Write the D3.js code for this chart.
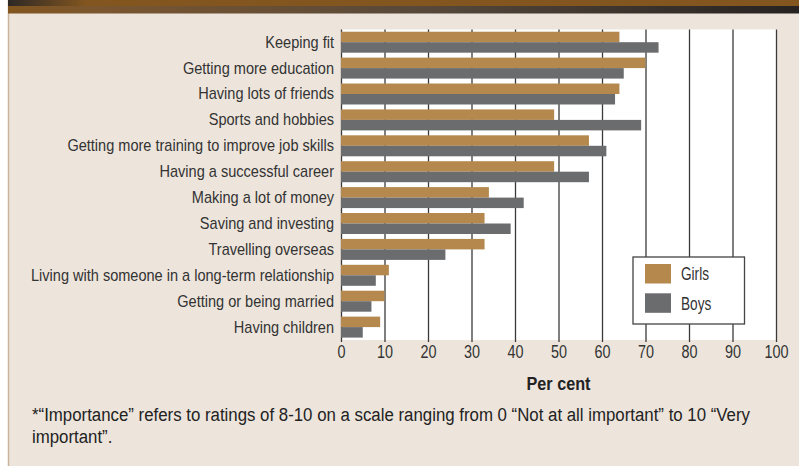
<!DOCTYPE html>
<html>
<head>
<meta charset="utf-8">
<script src="https://cdn.jsdelivr.net/npm/d3@7"></script>
<style>
  html, body { margin: 0; padding: 0; background: #ffffff; }
  svg { display: block; }
  text { font-family: "Liberation Sans", Arial, sans-serif; fill: #333333; }
</style>
</head>
<body>
<svg id="chart" width="799" height="466"></svg>
<script>
const categories = [
  "Keeping fit",
  "Getting more education",
  "Having lots of friends",
  "Sports and hobbies",
  "Getting more training to improve job skills",
  "Having a successful career",
  "Making a lot of money",
  "Saving and investing",
  "Travelling overseas",
  "Living with someone in a long-term relationship",
  "Getting or being married",
  "Having children"
];
const girls = [64, 70, 64, 49, 57, 49, 34, 33, 33, 11, 10, 9];
const boys  = [73, 65, 63, 69, 61, 57, 42, 39, 24, 8, 7, 5];
const seriesNames = ["Girls", "Boys"];
const seriesColors = ["#b5894e", "#6b6c6e"];
const xTicks = [0, 10, 20, 30, 40, 50, 60, 70, 80, 90, 100];
const xTitle = "Per cent";
const footnoteLines = [
  "*\u201CImportance\u201D refers to ratings of 8-10 on a scale ranging from 0 \u201CNot at all important\u201D to 10 \u201CVery",
  "important\u201D."
];

const svg = d3.select("#chart");
const W = 799, H = 466;

// condense a group of texts (Helvetica Condensed look) so that a reference text reaches a target width
function condense(sel, refText, refWidth) {
  let f = 0.82;
  sel.each(function () {
    if (d3.select(this).text() === refText) f = refWidth / this.getComputedTextLength();
  });
  sel.each(function () {
    const w = this.getComputedTextLength();
    d3.select(this).attr("textLength", w * f).attr("lengthAdjust", "spacingAndGlyphs");
  });
}

// page background and frame
svg.append("rect").attr("x", 0).attr("y", 0).attr("width", W).attr("height", H).attr("fill", "#ffffff");
svg.append("rect").attr("x", 8).attr("y", 0).attr("width", W - 8).attr("height", H).attr("fill", "#ede5dc");
svg.append("line").attr("x1", 8.5).attr("x2", 8.5).attr("y1", 0).attr("y2", H)
  .attr("stroke", "#c9b59e").attr("stroke-width", 1.5);

// header gradient bands
const defs = svg.append("defs");
const g1 = defs.append("linearGradient").attr("id", "hdr1").attr("x1", "0%").attr("x2", "100%");
g1.append("stop").attr("offset", "0%").attr("stop-color", "#2d2826");
g1.append("stop").attr("offset", "10%").attr("stop-color", "#83561f");
g1.append("stop").attr("offset", "100%").attr("stop-color", "#83561f");
const g2 = defs.append("linearGradient").attr("id", "hdr2").attr("x1", "0%").attr("x2", "100%");
g2.append("stop").attr("offset", "0%").attr("stop-color", "#83561f");
g2.append("stop").attr("offset", "12%").attr("stop-color", "#7a5630");
g2.append("stop").attr("offset", "55%").attr("stop-color", "#54473a");
g2.append("stop").attr("offset", "100%").attr("stop-color", "#262221");
svg.append("rect").attr("x", 8).attr("y", 0).attr("width", W - 8).attr("height", 6).attr("fill", "url(#hdr1)");
svg.append("rect").attr("x", 8).attr("y", 6).attr("width", W - 8).attr("height", 7.5).attr("fill", "url(#hdr2)");

// scales
const x = d3.scaleLinear().domain([0, 100]).range([341, 776]);
const y = d3.scaleBand().domain(categories).range([29.25, 340.05]).paddingInner(0.19).paddingOuter(0.095);
const sub = d3.scaleBand().domain(seriesNames).range([0, y.bandwidth()]);

const plotTop = 29.5, plotBottom = 340;

// plot background
svg.append("rect").attr("x", x(0)).attr("y", plotTop)
  .attr("width", x(100) - x(0) + 1).attr("height", plotBottom - plotTop).attr("fill", "#ffffff");

// gridlines via axis
const grid = svg.append("g").attr("transform", `translate(0,${plotBottom + 2})`)
  .call(d3.axisBottom(x).tickValues(xTicks).tickSize(-(plotBottom + 2 - plotTop)).tickFormat(""));
grid.select(".domain").remove();
grid.selectAll("line").attr("stroke", "#3a3a3a").attr("stroke-width", 1.3);

// bars
const rows = categories.map((c, i) => ({ c, vals: [girls[i], boys[i]] }));
const rowG = svg.append("g").selectAll("g").data(rows).join("g")
  .attr("transform", d => `translate(0,${y(d.c)})`);
rowG.selectAll("rect").data(d => d.vals.map((v, j) => ({ v, s: seriesNames[j], col: seriesColors[j] })))
  .join("rect")
  .attr("x", x(0))
  .attr("y", d => sub(d.s))
  .attr("width", d => x(d.v) - x(0))
  .attr("height", sub.bandwidth())
  .attr("fill", d => d.col);

// x tick labels
const xAxis = svg.append("g").attr("transform", `translate(0,${plotBottom})`)
  .call(d3.axisBottom(x).tickValues(xTicks).tickSize(0).tickPadding(5));
xAxis.select(".domain").remove();
xAxis.selectAll("text").attr("font-size", 18).attr("font-family", null).style("fill", "#333");
condense(xAxis.selectAll("text"), "100", 24);

// category labels
const yAxis = svg.append("g").attr("transform", `translate(${x(0)},0)`)
  .call(d3.axisLeft(y).tickSize(0).tickPadding(7));
yAxis.select(".domain").remove();
yAxis.selectAll("text").attr("font-size", 17).attr("font-family", null).style("fill", "#333");
condense(yAxis.selectAll("text"), "Living with someone in a long-term relationship", 303);

// axis title
const title = svg.append("text").attr("x", (x(0) + x(100)) / 2).attr("y", 390)
  .attr("text-anchor", "middle").attr("font-size", 18).attr("font-weight", "bold")
  .style("fill", "#222").text(xTitle);
condense(title, xTitle, 64);

// legend
const lg = svg.append("g");
lg.append("rect").attr("x", 633).attr("y", 257).attr("width", 111.5).attr("height", 67)
  .attr("fill", "#ffffff").attr("stroke", "#444").attr("stroke-width", 1.3);
seriesNames.forEach((s, i) => {
  lg.append("rect").attr("x", 645).attr("y", 264 + i * 29.3).attr("width", 26).attr("height", 19.5)
    .attr("fill", seriesColors[i]);
});
const lgText = lg.selectAll("text.lt").data(seriesNames).join("text").attr("class", "lt")
  .attr("x", 681).attr("y", (d, i) => 274 + i * 29.3).attr("dy", "0.36em")
  .attr("font-size", 18).style("fill", "#333").text(d => d);
condense(lgText, "Girls", 28);

// footnote
const foot = svg.append("g").selectAll("text").data(footnoteLines).join("text")
  .attr("x", 32).attr("y", (d, i) => 421 + i * 22)
  .attr("font-size", 18).style("fill", "#222").text(d => d);
condense(foot, footnoteLines[0], 718);
</script>
</body>
</html>
